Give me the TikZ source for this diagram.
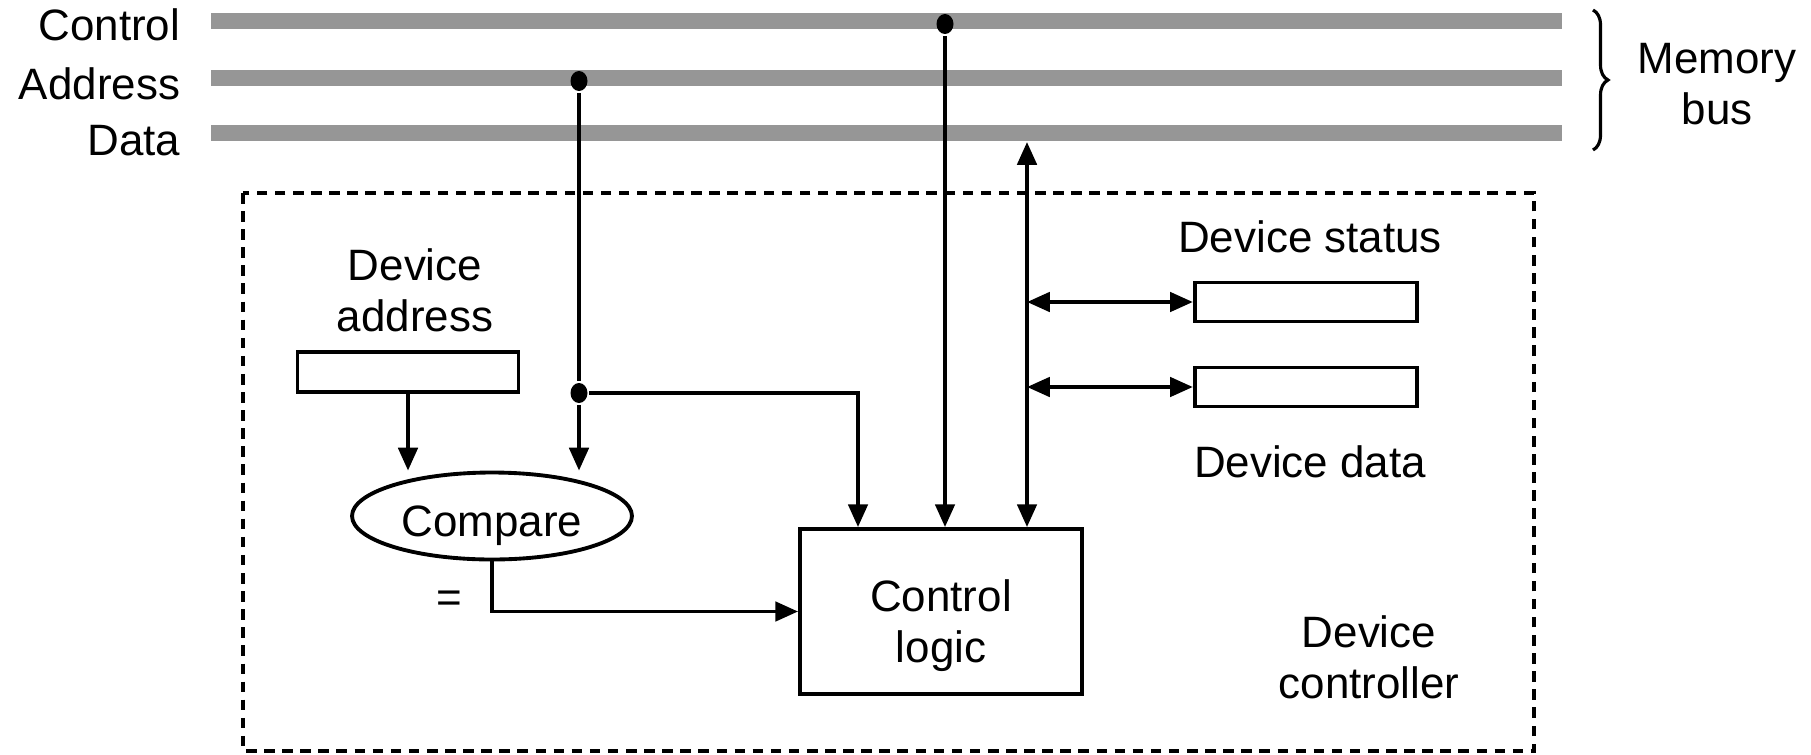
\documentclass[tikz,border=0pt]{standalone}
\usepackage{fontspec}
\setmainfont{Liberation Sans}
\usetikzlibrary{arrows.meta, positioning, shapes.geometric, decorations.pathreplacing}
\definecolor{busgray}{RGB}{150,150,150}
\tikzset{>={Triangle[length=13pt,width=11pt]}, % filled arrow heads
bus/.style={line width=9pt, busgray}, % the three memory bus lines
buslabel/.style={anchor=east, inner sep=0pt},
reg/.style={draw, rectangle, minimum width=4.45cm, minimum height=0.78cm, inner sep=0pt},
dot/.style={ellipse, fill, inner sep=0pt, minimum width=0.34cm, minimum height=0.4cm},
txt/.style={align=center, inner sep=0pt},
}

\begin{document}
\begin{tikzpicture}[x=0.02cm, y=-0.02cm, line width=2.2pt,
  font=\fontsize{25pt}{29pt}\selectfont]
  \useasboundingbox (0,0) rectangle (1811,754);

  % memory bus
  \coordinate (ctlW) at (211,21);  \coordinate (ctlE) at (1562,21);
  \coordinate (adrW) at (211,78);  \coordinate (adrE) at (1562,78);
  \coordinate (datW) at (211,133); \coordinate (datE) at (1562,133);
  \draw[bus] (ctlW) -- (ctlE);
  \draw[bus] (adrW) -- (adrE);
  \draw[bus] (datW) -- (datE);
  \node[buslabel] (ctltxt) at (182,25) {Control};
  \node[buslabel] (adrtxt) at (182,84) {Address};
  \node[buslabel] (dattxt) at (182,141) {Data};
  \draw[line width=1.8pt, decorate, decoration={brace, amplitude=0.3cm}]
    (1593,10) -- (1593,150);
  \node[txt] (membus) at (1717,84) {Memory\\bus};

  % device controller
  \draw[dashed, dash pattern=on 6pt off 4.3pt] (243,193) rectangle (1534,751);
  \node[txt] (devctl) at (1369,657) {Device\\controller};

  \node[txt] (adrlbl) at (415,290) {Device\\address};
  \node[reg, minimum width=4.42cm, minimum height=0.8cm] (devadr) at (408,372) {};
  \node[draw, ellipse, minimum width=5.6cm, minimum height=1.74cm, inner sep=0pt] (cmp) at (492,516) {};
  \node[txt] (cmptxt) at ([yshift=-0.2cm]cmp.center) {Compare};
  \node[draw, minimum width=5.64cm, minimum height=3.3cm] (cl) at (941,611.5) {};
  \node[txt] (cltxt) at ([yshift=-0.28cm]cl.center) {Control\\logic};

  \node[reg] (status) at (1306,302) {};
  \node[reg] (ddata) at (1306,387) {};
  \node[txt] (stlbl) at (1310,237) {Device status};
  \node[txt] (ddlbl) at (1310,462) {Device data};

  % connectors
  \node[dot] (adot) at (579,81) {};
  \node[dot] (adot2) at (579,393) {};
  \node[dot] (cdot) at (945,24) {};
  \coordinate (tap) at (858,393);
  \coordinate (dtop) at (1027,142);

  \draw (adot) -- (adot2);
  \draw[->] (adot2) -- (adot2 |- cmp.north);
  \draw[->] (devadr.south) -- (devadr.south |- cmp.north);
  \draw[->] (adot2) -- (tap) -- (tap |- cl.north);
  \draw[->] (cdot) -- (cdot |- cl.north);
  \draw[<->] (dtop) -- (dtop |- cl.north);
  \draw[<->] (dtop |- status.west) -- (status.west);
  \draw[<->] (dtop |- ddata.west) -- (ddata.west);
  \draw[->] (cmp.south) |- (cl.west) node[pos=0.4, left=0.45cm] (eq) {=};
\end{tikzpicture}
\end{document}
